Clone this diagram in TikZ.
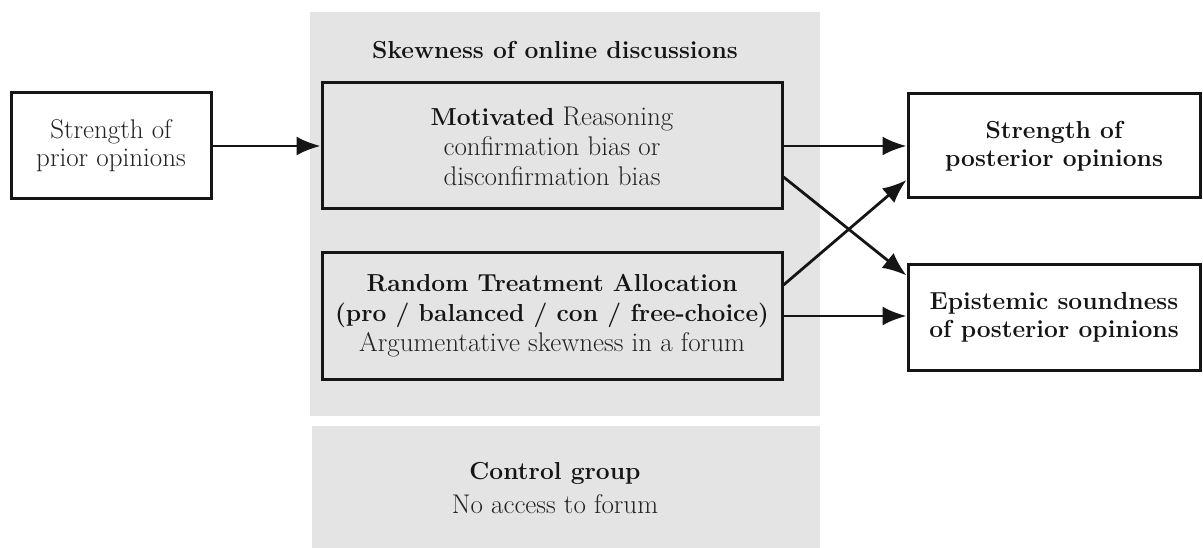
\documentclass[tikz,border=0pt]{standalone}
\usepackage{fontspec}
\usetikzlibrary{arrows.meta}
\definecolor{panel}{HTML}{E4E4E4}
\definecolor{ink}{HTML}{151515}
\definecolor{inkl}{HTML}{222222}
\newcommand{\bt}[1]{{\fontsize{24.6}{30}\selectfont\bfseries #1}}
\begin{document}
\begin{tikzpicture}[x=1pt,y=-1pt,
  box/.style={draw=ink,line width=3pt,rectangle,align=center,inner sep=0pt,text=inkl,
    font=\fontsize{27}{30}\selectfont},
  conn/.style={draw=ink,line width=2.8pt,-{Latex[length=24pt,width=19pt]}},
  txt/.style={align=center,text=inkl,font=\fontsize{27}{30}\selectfont}]
\useasboundingbox (0,0) rectangle (1203,548);
\fill[panel] (310,12) rectangle (820,416);
\fill[panel] (312,426) rectangle (820,548);
\node[txt,text=ink] (title) at (555,50) {\bt{Skewness of online discussions}};
\node[box,fill=white,minimum width=200pt,minimum height=106pt,font=\fontsize{27}{28}\selectfont] (prior) at (111,146) {Strength of\\prior opinions};
\node[box,fill=panel,minimum width=460pt,minimum height=126pt] (mot) at (552,146) {{\color{ink}\bt{Motivated}} Reasoning\\confirmation bias or\\disconfirmation bias};
\node[box,fill=panel,minimum width=460pt,minimum height=126pt,text=ink] (rnd) at (552,316) {\bt{Random Treatment Allocation}\\\bt{(pro / balanced / con / free-choice)}\\{\color{inkl}Argumentative skewness in a forum}};
\node[box,fill=white,minimum width=292pt,minimum height=104pt,text=ink,font=\fontsize{25}{28}\selectfont] (str) at (1054,146) {\bt{Strength of}\\\bt{posterior opinions}};
\node[box,fill=white,minimum width=292pt,minimum height=105pt,text=ink,font=\fontsize{25}{28}\selectfont] (epi) at (1054,317.5) {\bt{Epistemic soundness}\\\bt{of posterior opinions}};
\node[txt,font=\fontsize{27}{34}\selectfont] (ctrl) at (555,488) {{\color{ink}\bt{Control group}}\\No access to forum};
\draw[conn] (prior.east) -- (mot.west);
\draw[conn] (mot.east) -- (str.west);
\draw[conn] ([yshift=-31pt]mot.east) -- ([yshift=42pt]epi.west);
\draw[conn] ([yshift=31pt]rnd.east) -- ([yshift=-34pt]str.west);
\draw[conn] (rnd.east) -- (rnd.east -| epi.west);
\end{tikzpicture}
\end{document}
